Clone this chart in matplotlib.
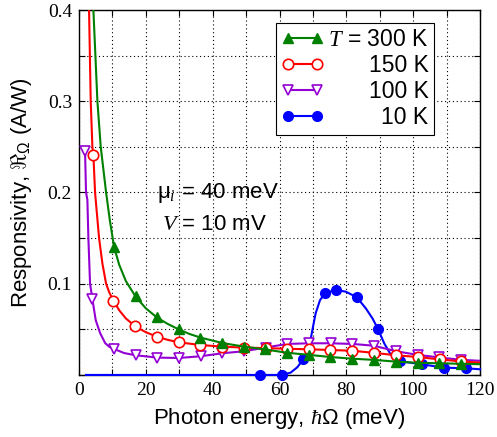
import numpy as np
import matplotlib.pyplot as plt
from matplotlib.ticker import MultipleLocator, FixedLocator

plt.rcParams['font.family'] = 'Liberation Sans'
plt.rcParams['mathtext.fontset'] = 'custom'
plt.rcParams['mathtext.rm'] = 'Liberation Sans'
plt.rcParams['mathtext.it'] = 'Liberation Serif:italic'
plt.rcParams['mathtext.fallback'] = 'cm'

# photon energy (meV) and responsivity (A/W), markers
e_300 = [10.5, 16.9, 23.3, 29.8, 36.3, 42.9, 49.4, 55.6, 62.3, 68.8, 75.1, 81.8,
         88.3, 94.8, 101.3, 107.8, 114.3]
r_300 = [0.140, 0.086, 0.063, 0.050, 0.041, 0.035, 0.031, 0.028, 0.0243, 0.022,
         0.0197, 0.0178, 0.0165, 0.0146, 0.0133, 0.0128, 0.0122]

e_150 = [4.3, 10.3, 16.8, 23.3, 29.8, 36.2, 42.8, 49.3, 55.8, 62.3, 68.8, 75.1,
         81.8, 88.3, 94.8, 101.5, 108.0, 114.3]
r_150 = [0.241, 0.0815, 0.0533, 0.042, 0.0358, 0.0329, 0.031, 0.030, 0.0294,
         0.0287, 0.0281, 0.0274, 0.0265, 0.0242, 0.0216, 0.0196, 0.0170, 0.0148]

e_100 = [1.8, 4.0, 10.5, 16.9, 23.4, 29.9, 36.4, 42.9, 49.4, 55.8, 62.3, 68.8,
         75.3, 81.8, 88.3, 94.8, 101.3, 107.8, 114.3]
r_100 = [0.245, 0.083, 0.0285, 0.0216, 0.019, 0.0186, 0.0205, 0.0238, 0.026,
         0.030, 0.034, 0.0347, 0.0347, 0.034, 0.032, 0.026, 0.022, 0.0192, 0.0166]

e_10 = [54.1, 60.6, 67.1, 73.6, 76.8, 83.1, 89.5, 96.1, 102.5, 109.1, 115.8]
r_10 = [0.0, 0.0, 0.0172, 0.0895, 0.0932, 0.0852, 0.050, 0.0150, 0.0117,
        0.0080, 0.0073]

# curves through the markers
e_300_c = [4.0, 4.3, 5.5, 6.5, 8.1, 9.2, 10.5, 12.0, 14.0, 16.9, 20.0, 23.3,
           26.5, 29.8, 33.0, 36.3, 42.9, 49.4, 55.6, 62.3, 68.8, 75.1, 81.8,
           88.3, 94.8, 101.3, 107.8, 114.3, 120.0]
r_300_c = [0.44, 0.40, 0.30, 0.25, 0.20, 0.170, 0.140, 0.121, 0.103, 0.086,
           0.073, 0.063, 0.056, 0.050, 0.045, 0.041, 0.035, 0.031, 0.028, 0.0243,
           0.022, 0.0197, 0.0178, 0.0165, 0.0146, 0.0133, 0.0128, 0.0122, 0.0118]

e_150_c = [2.8, 3.0, 3.5, 4.0, 4.3, 4.8, 6.0, 7.0, 8.1, 9.1, 10.3, 12.0, 14.0,
           16.8, 20.0, 23.3, 26.5, 29.8, 36.2, 42.8, 49.3, 55.8, 62.3, 68.8,
           75.1, 81.8, 88.3, 94.8, 101.5, 108.0, 114.3, 120.0]
r_150_c = [0.45, 0.40, 0.30, 0.25, 0.241, 0.20, 0.150, 0.122, 0.100, 0.090,
           0.0815, 0.071, 0.062, 0.0533, 0.0468, 0.042, 0.0385, 0.0358, 0.0329,
           0.031, 0.030, 0.0294, 0.0287, 0.0281, 0.0274, 0.0265, 0.0242, 0.0216,
           0.0196, 0.0170, 0.0148, 0.0135]

e_100_c = [1.8, 2.1, 2.5, 2.8, 3.3, 4.0, 5.0, 6.3, 7.8, 9.0, 10.5, 13.5, 16.9,
           23.4, 29.9, 36.4, 42.9, 49.4, 55.8, 62.3, 68.8, 75.3, 81.8, 88.3,
           94.8, 101.3, 107.8, 114.3, 120.0]
r_100_c = [0.245, 0.20, 0.192, 0.150, 0.100, 0.083, 0.060, 0.046, 0.035, 0.031,
           0.0285, 0.024, 0.0216, 0.019, 0.0186, 0.0205, 0.0238, 0.026, 0.030,
           0.034, 0.0347, 0.0347, 0.034, 0.032, 0.026, 0.022, 0.0192, 0.0166,
           0.0155]

e_10_c = [2.1, 54.1, 60.6, 63.3, 65.3, 67.1, 68.8, 69.8, 70.8, 72.1, 73.6, 76.8,
          79.8, 83.1, 85.8, 87.8, 89.5, 91.3, 93.3, 96.1, 102.5, 109.1, 115.8,
          120.0]
r_10_c = [0.0, 0.0, 0.0, 0.0025, 0.0084, 0.0172, 0.029, 0.049, 0.0676, 0.082,
          0.0895, 0.0932, 0.0913, 0.0852, 0.073, 0.062, 0.050, 0.0347, 0.022,
          0.0150, 0.0117, 0.0080, 0.0073, 0.0062]

fig = plt.figure(figsize=(4.97, 4.37), dpi=100)
ax = fig.add_axes([0.159, 0.142, 0.807, 0.835])

green = '#008000'
red = '#ff0000'
purple = '#9400d3'
blue = '#0000ff'
lw = 1.5

ax.plot(e_10_c, r_10_c, color=blue, lw=lw, zorder=3, clip_on=False)
ax.plot(e_10, r_10, 'o', color=blue, ms=7, zorder=3, clip_on=False)
ax.plot(e_100_c, r_100_c, color=purple, lw=lw, zorder=4)
ax.plot(e_100, r_100, 'v', mfc='white', mec=purple, mew=1.2, ms=7, zorder=4)
ax.plot(e_150_c, r_150_c, color=red, lw=lw, zorder=5)
ax.plot(e_150, r_150, 'o', mfc='white', mec=red, mew=1.2, ms=7.5, zorder=5)
ax.plot(e_300_c, r_300_c, color=green, lw=lw, zorder=6)
ax.plot(e_300, r_300, '^', color=green, ms=7, zorder=6)

# legend handles: line with a marker at each end
h300, = ax.plot([], [], '^-', color=green, lw=lw, ms=7)
h150, = ax.plot([], [], 'o-', color=red, mfc='white', mec=red, mew=1.2, lw=lw, ms=7.5)
h100, = ax.plot([], [], 'v-', color=purple, mfc='white', mec=purple, mew=1.2, lw=lw, ms=7)
h10, = ax.plot([], [], 'o-', color=blue, lw=lw, ms=7)

ax.set_xlim(0, 120)
ax.set_ylim(0, 0.4)
ax.xaxis.set_major_locator(MultipleLocator(20))
ax.xaxis.set_minor_locator(MultipleLocator(10))
ax.yaxis.set_major_locator(FixedLocator([0.1, 0.2, 0.3, 0.4]))
ax.yaxis.set_minor_locator(MultipleLocator(0.05))
ax.grid(True, which='both', color='black', linestyle=(0, (1, 2.5)), lw=0.8)
ax.set_axisbelow(True)
ax.tick_params(which='both', direction='in', top=True, right=True, length=4,
               width=0.8, labelsize=14, labelfontfamily='Liberation Serif', pad=5)
for sp in ax.spines.values():
    sp.set_linewidth(1.0)

ax.set_xlabel(r'Photon energy, $\hbar\Omega$ (meV)', fontsize=16, labelpad=5)
ax.set_ylabel(r'Responsivity, $\Re_\Omega$ (A/W)', fontsize=16, labelpad=10)

ax.text(0.347, 0.499, r'μ$_{i}$ = 40 meV', transform=ax.transAxes, fontsize=16,
        ha='center', va='center')
ax.text(0.339, 0.411, r'$V$ = 10 mV', transform=ax.transAxes, fontsize=16,
        ha='center', va='center')

leg = ax.legend([h300, h150, h100, h10],
                [r'$T$ = 300 K', '150 K', '100 K', '10 K'],
                loc='upper right', bbox_to_anchor=(0.884, 0.965), borderaxespad=0,
                numpoints=2, handlelength=1.85, handletextpad=0.2, labelspacing=0.14,
                fontsize=16.5, fancybox=False, framealpha=1, edgecolor='black',
                borderpad=0.22)
leg.get_frame().set_linewidth(0.8)

# right-align the legend labels inside their column
fig.canvas.draw()
renderer = fig.canvas.get_renderer()
widths = [t.get_window_extent(renderer).width for t in leg.get_texts()]
for t, w in zip(leg.get_texts(), widths):
    t.set_position((max(widths) - w, 0))

fig.savefig('out.png', dpi=100)
